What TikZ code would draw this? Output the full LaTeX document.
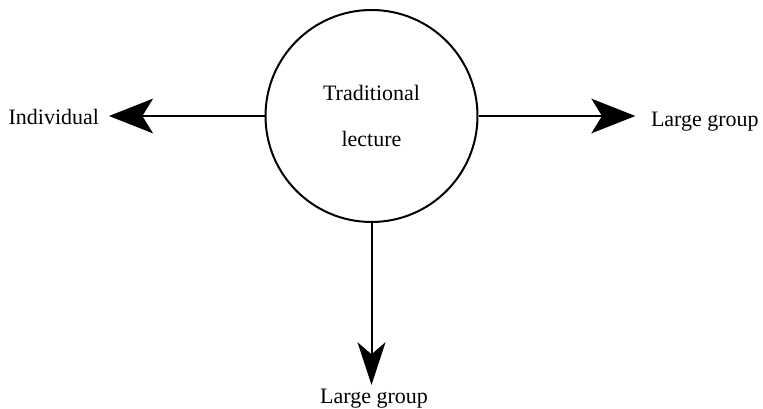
\documentclass[tikz,border=0pt]{standalone}
\usepackage{fontspec}
\setmainfont{Liberation Serif}
\usetikzlibrary{arrows.meta}

\tikzset{every picture/.style={line width=1.5pt}}
\tikzset{
  bigtip/.style={-{Stealth[length=33pt,width=26pt,inset=8pt]}},
  downtip/.style={-{Stealth[length=32pt,width=21pt,inset=9pt]}},
  lbl/.style={inner sep=0pt,font=\fontsize{16.5}{20}\selectfont}
}

\begin{document}
\begin{tikzpicture}[x=0.75pt,y=0.75pt,yscale=-1,xscale=1]
\useasboundingbox (0,0) rectangle (763,409);

%Shape: Circle
\node [draw,circle,minimum size=159pt,inner sep=0pt,align=center,font=\fontsize{16.5}{35}\selectfont] (lecture) at (371.5,116) {Traditional\\lecture};

% Text Node
\node [lbl,anchor=base east] (indiv) at (100,125) {Individual};
% Text Node
\node [lbl,anchor=base west] (lgright) at (650,127) {Large group};
% Text Node
\node [lbl,anchor=base] (lgdown) at (374,403) {Large group};

%Straight Lines
\draw [bigtip,shorten >=6.75pt] (lecture.west) -- (lecture.west -| indiv.east);
%Straight Lines
\draw [bigtip,shorten >=11pt] (lecture.east) -- (lecture.east -| lgright.west);
%Straight Lines
\draw [downtip,shorten >=2pt] (lecture.south) -- (lecture.south |- lgdown.north);

\end{tikzpicture}
\end{document}
